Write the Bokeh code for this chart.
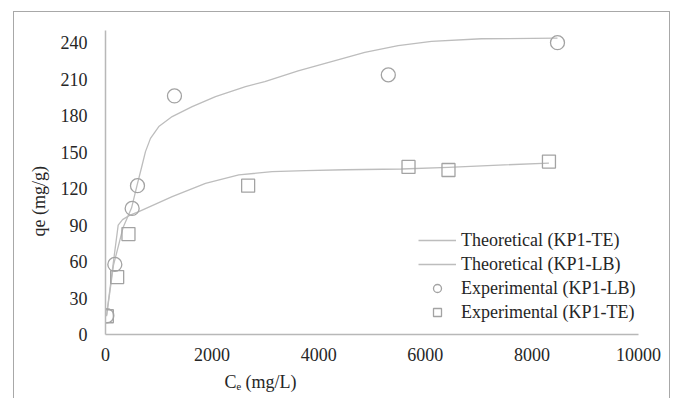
from bokeh.plotting import figure
from bokeh.models import Range1d, FixedTicker, Title, Legend, LegendItem
from bokeh.embed import file_html
from bokeh.resources import INLINE

# --- data ---
lb_exp_x = [25, 175, 500, 600, 1294, 5306, 8480]
lb_exp_y = [15.4, 57.6, 103.7, 122.4, 196.2, 213.5, 240.0]
te_exp_x = [25, 219, 431, 2676, 5685, 6435, 8320]
te_exp_y = [15.0, 47.2, 82.6, 122.4, 137.8, 135.3, 142.2]

lb_th_x = [20, 150, 330, 488, 594, 688, 750, 844, 1000, 1251, 1626, 2064, 2627, 2989,
           3614, 4240, 4865, 5491, 6116, 7054, 8480]
lb_th_y = [15, 57, 88, 104, 123, 139.4, 150.4, 161.3, 171, 179.2, 187.4, 195.7, 203.9, 208,
           216.8, 224.5, 232.1, 237.6, 241, 243.2, 243.7]
te_th_x = [20, 238, 320, 450, 625, 1251, 1876, 2501, 3127, 3752, 4500, 5550, 6430, 8320]
te_th_y = [16, 90, 94.5, 98, 101, 113.4, 124.3, 131.2, 133.9, 134.8, 135.5, 136.1, 137.5, 141]

x_ticks = [0, 2000, 4000, 6000, 8000, 10000]
y_ticks = [0, 30, 60, 90, 120, 150, 180, 210, 240]

FONT = "Liberation Serif"
LINE_C = "#bdbdbd"
MARK_C = "#a3a3a3"
AXIS_C = "#b8b8b8"
TXT_C = "#262626"

p = figure(width=657, height=388, output_backend="svg", toolbar_location=None,
           x_range=Range1d(0, 10000), y_range=Range1d(0, 250),
           min_border_left=91, min_border_right=33, min_border_top=18, min_border_bottom=66)
p.margin = (11, 0, 0, 13)
p.styles = {"border-top": "1.5px solid #a8a8a8", "border-left": "1.5px solid #a8a8a8",
            "border-right": "1.5px solid #a8a8a8"}
p.outline_line_color = None
p.grid.visible = False
p.background_fill_color = "white"
p.border_fill_color = "white"

for ax in (p.xaxis[0], p.yaxis[0]):
    ax.major_tick_line_color = None
    ax.minor_tick_line_color = None
    ax.axis_line_color = AXIS_C
    ax.axis_line_width = 1.5
    ax.major_label_text_font = FONT
    ax.major_label_text_font_size = "18px"
    ax.major_label_text_color = TXT_C
p.xaxis.ticker = FixedTicker(ticks=x_ticks)
p.yaxis.ticker = FixedTicker(ticks=y_ticks)
p.xaxis.major_label_standoff = 7
p.yaxis.major_label_standoff = 12

r_te = p.line(te_th_x, te_th_y, line_color=LINE_C, line_width=1.3, line_join="round")
r_lb = p.line(lb_th_x, lb_th_y, line_color=LINE_C, line_width=1.3, line_join="round")
r_lbe = p.scatter(lb_exp_x, lb_exp_y, marker="circle", size=14, fill_color=None,
                  line_color=MARK_C, line_width=1.3)
r_tee = p.scatter(te_exp_x, te_exp_y, marker="square", size=13, fill_color=None,
                  line_color=MARK_C, line_width=1.3)

legend = Legend(items=[
    LegendItem(label="Theoretical (KP1-TE)", renderers=[r_te]),
    LegendItem(label="Theoretical (KP1-LB)", renderers=[r_lb]),
    LegendItem(label="Experimental (KP1-LB)", renderers=[r_lbe]),
    LegendItem(label="Experimental (KP1-TE)", renderers=[r_tee]),
], location=(313, 10))
legend.border_line_color = None
legend.background_fill_alpha = 0
legend.label_text_font = FONT
legend.label_text_font_size = "18px"
legend.label_text_color = TXT_C
legend.label_height = 24
legend.glyph_height = 20
legend.glyph_width = 38
legend.label_standoff = 5
legend.spacing = 0
legend.padding = 0
legend.margin = 0
p.add_layout(legend, "center")

# axis titles
p.add_layout(Title(text="qe (mg/g)", align="left", offset=98, standoff=18,
                   text_font=FONT, text_font_size="18px", text_font_style="normal",
                   text_color=TXT_C), "left")
p.add_layout(Title(text="C\u2091 (mg/L)", align="left", offset=119, standoff=12,
                   text_font=FONT, text_font_size="18px", text_font_style="normal",
                   text_color=TXT_C), "below")

open("out.html", "w").write(file_html(p, INLINE))
